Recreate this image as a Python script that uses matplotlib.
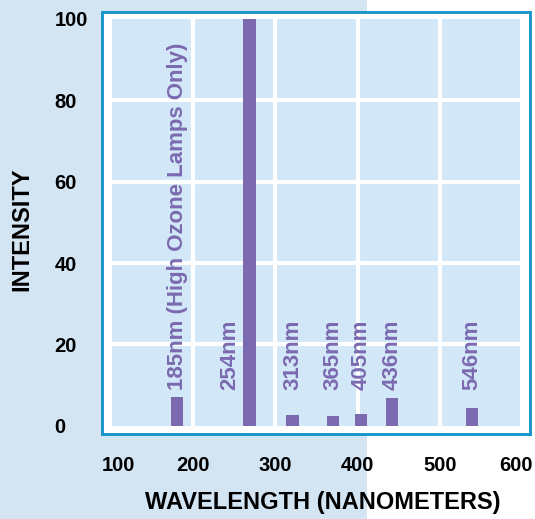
import matplotlib
matplotlib.use('Agg')
import matplotlib.pyplot as plt
import matplotlib.transforms as mtransforms
from matplotlib.patches import Rectangle

plt.rcParams['font.family'] = ['Liberation Sans', 'DejaVu Sans']
plt.rcParams['font.weight'] = 'bold'

# spectral lines
line_labels = ['185nm (High Ozone Lamps Only)', '254nm', '313nm', '365nm', '405nm', '436nm', '546nm']
line_pos = [181, 269, 321, 370, 404, 442, 539]
intensity = [7.0, 100, 2.6, 2.5, 2.8, 6.8, 4.4]
x_ticks = [100, 200, 300, 400, 500, 600]
y_ticks = [0, 20, 40, 60, 80, 100]

purple = '#7b6ab0'
pale = '#d2e7f7'
page = '#d3e4f3'
frame = '#1996c9'

W, H = 535, 519
fig = plt.figure(figsize=(W / 100, H / 100), dpi=100)
fig.patch.set_facecolor('white')
fig.add_artist(Rectangle((0, 0), 367 / W, 1, transform=fig.transFigure,
                         facecolor=page, edgecolor='none', zorder=-10))

ax = fig.add_axes([101.7 / W, (H - 434) / H, (530 - 101.7) / W, (434 - 12) / H])
ax.set_facecolor('white')
ax.set_xlim(89.6, 609)
ax.set_ylim(-2, 101.7)
for s in ax.spines.values():
    s.set_color(frame)
    s.set_linewidth(2.1)

# pale panel with white grid
ax.add_patch(Rectangle((x_ticks[0] + 2, y_ticks[0]), x_ticks[-1] - x_ticks[0] - 5, y_ticks[-1] - y_ticks[0],
                       facecolor=pale, edgecolor='none', zorder=0))
for xv in x_ticks[1:-1]:
    ax.axvline(xv, color='white', lw=3.0, zorder=1)
for yv in y_ticks[1:-1]:
    ax.axhline(yv, color='white', lw=3.0, zorder=1)

ax.bar(line_pos, intensity, width=15, color=purple, zorder=2)

nudge = {'254nm': -24}
for lab, xp in zip(line_labels, line_pos):
    ax.text(xp + nudge.get(lab, 0), 8.8, lab, rotation=90, ha='center', va='bottom',
            color=purple, fontsize=16, fontweight='bold', zorder=3)

ax.set_xticks(x_ticks)
ax.set_xticklabels([str(v) for v in x_ticks])
ax.set_yticks(y_ticks)
ax.set_yticklabels([str(v) for v in y_ticks])
ax.tick_params(axis='both', length=0, labelsize=14.5)
ax.tick_params(axis='x', pad=16)
ax.tick_params(axis='y', pad=34)
for t in ax.get_yticklabels():
    t.set_ha('left')
    t.set_fontweight('bold')
xl = ax.get_xticklabels()
for t in xl:
    t.set_fontweight('bold')
xl[0].set_transform(xl[0].get_transform() + mtransforms.ScaledTranslation(8 / 100, 0, fig.dpi_scale_trans))
xl[-1].set_transform(xl[-1].get_transform() + mtransforms.ScaledTranslation(-6.5 / 100, 0, fig.dpi_scale_trans))

ax.set_xlabel('WAVELENGTH (NANOMETERS)', fontsize=17, fontweight='bold')
ax.set_ylabel('INTENSITY', fontsize=17, fontweight='bold')
ax.xaxis.label.set_va('center')
ax.yaxis.label.set_va('center')
ax.xaxis.set_label_coords(0.5155, -0.162)
ax.yaxis.set_label_coords(-0.1868, 0.486)

fig.savefig('out.png', dpi=100, facecolor=fig.get_facecolor())
